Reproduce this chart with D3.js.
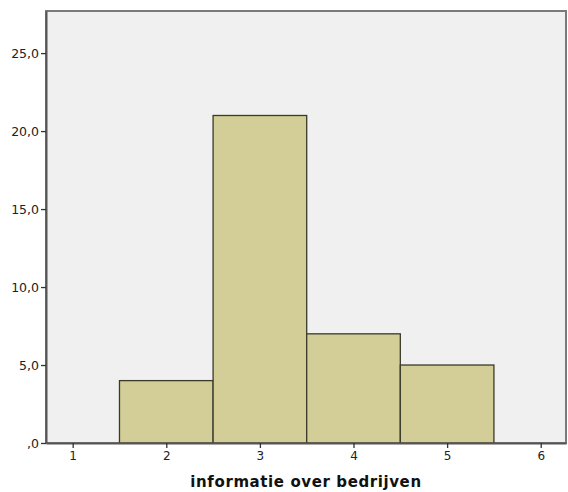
<!DOCTYPE html>
<html><head><meta charset="utf-8">
<script src="https://cdn.jsdelivr.net/npm/d3@7"></script>
<style>body{margin:0;background:#fff}</style>
</head><body>
<svg id="c" width="568" height="492"></svg>
<script>
const categories = [2, 3, 4, 5];
const counts = [4, 21, 7, 5];
const yTicks = [0, 5, 10, 15, 20, 25];
const yTickLabels = [",0", "5,0", "10,0", "15,0", "20,0", "25,0"];
const xTicks = [1, 2, 3, 4, 5, 6];
const xTitle = "informatie over bedrijven";

const svg = d3.select("#c");
const L = 46, R = 566, T = 11, B = 443;
const x = d3.scaleLinear().domain([0.715, 6.27]).range([L, R]);
const y = d3.scaleLinear().domain([0, 27.7]).range([B, T]);

svg.append("rect").attr("x", L).attr("y", T).attr("width", R - L).attr("height", B - T)
  .attr("fill", "#f0f0f0").attr("stroke", "#7a7a7a").attr("stroke-width", 2);

svg.selectAll("rect.bar").data(categories).enter().append("rect").attr("class", "bar")
  .attr("x", d => x(d - 0.5)).attr("width", d => x(d + 0.5) - x(d - 0.5))
  .attr("y", (d, i) => y(counts[i])).attr("height", (d, i) => y(0) - y(counts[i]))
  .attr("fill", "#d3ce97").attr("stroke", "#3a3a2a").attr("stroke-width", 1.3);

const yAxis = d3.axisLeft(y).tickValues(yTicks).tickFormat((d, i) => yTickLabels[i]).tickSize(5).tickSizeOuter(0).tickPadding(2);
const gy = svg.append("g").attr("transform", `translate(${L},0)`).call(yAxis);
gy.select(".domain").attr("stroke", "#555").attr("stroke-width", 2);
gy.selectAll(".tick line").attr("stroke", "#333").attr("stroke-width", 1.3);
gy.selectAll(".tick text").attr("font-family", "DejaVu Sans").attr("font-size", 12.5).attr("fill", "#222");

const xAxis = d3.axisBottom(x).tickValues(xTicks).tickFormat(d3.format("d")).tickSize(5).tickSizeOuter(0).tickPadding(3);
const gx = svg.append("g").attr("transform", `translate(0,${B})`).call(xAxis);
gx.select(".domain").attr("stroke", "#555").attr("stroke-width", 2);
gx.selectAll(".tick line").attr("stroke", "#333").attr("stroke-width", 1.3);
gx.selectAll(".tick text").attr("font-family", "DejaVu Sans").attr("font-size", 12).attr("fill", "#222");

svg.append("text").attr("x", 306).attr("y", 487).attr("text-anchor", "middle")
  .attr("font-family", "DejaVu Sans").attr("font-weight", "bold").attr("font-size", 15)
  .attr("letter-spacing", 0.6)
  .attr("fill", "#111").text(xTitle);
</script>
</body></html>
